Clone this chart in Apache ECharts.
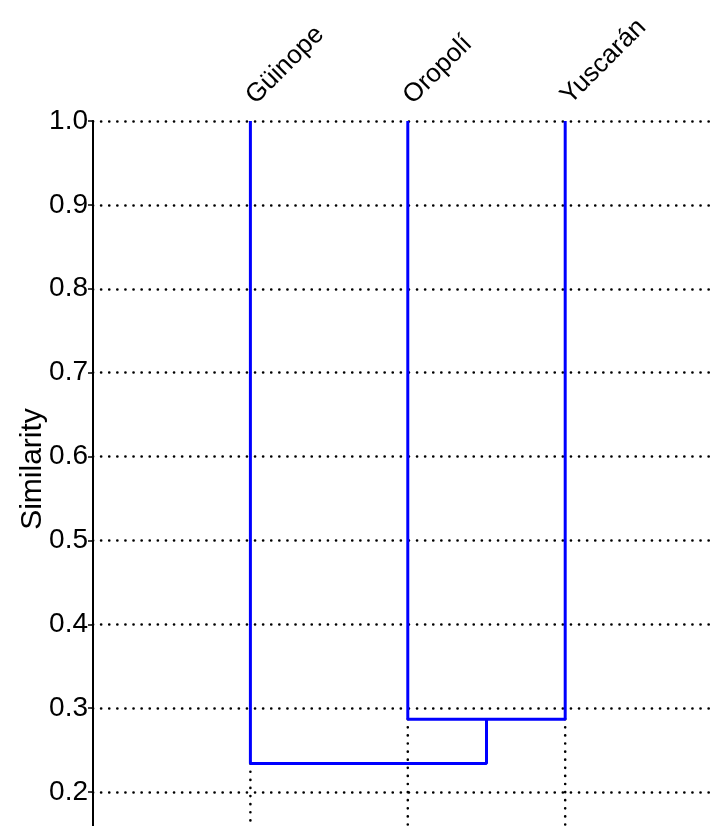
<!DOCTYPE html>
<html>
<head>
<meta charset="utf-8">
<script src="https://cdn.jsdelivr.net/npm/echarts@6/dist/echarts.min.js"></script>
<style>
  html, body { margin: 0; padding: 0; background: #fff; overflow: hidden; }
  #chart { width: 710px; height: 826px; }
</style>
</head>
<body>
<div id="chart"></div>
<script>
// leaves of the dendrogram, left to right
const leaves = ['Güinope', 'Oropolí', 'Yuscarán'];
// similarity at which the clusters merge
const mergeOropoliYuscaran = 0.287;
const mergeGuinopeRest = 0.234;
// y axis ticks
const yTicks = [0.2, 0.3, 0.4, 0.5, 0.6, 0.7, 0.8, 0.9, 1.0];

const chart = echarts.init(document.getElementById('chart'));

const yTop = 1.0;
const yBottom = 0.1;
const mid = (2 + 3) / 2;

// blue dendrogram branches
const branchA = [[2, yTop], [2, mergeOropoliYuscaran], [3, mergeOropoliYuscaran], [3, yTop]];
const branchB = [[1, yTop], [1, mergeGuinopeRest], [mid, mergeGuinopeRest], [mid, mergeOropoliYuscaran]];

// dotted drop lines below the joins
const dropLines = [
  [[1, mergeGuinopeRest], [1, yBottom]],
  [[2, mergeOropoliYuscaran], [2, yBottom]],
  [[3, mergeOropoliYuscaran], [3, yBottom]]
];

const font = 'Liberation Sans, Arial, sans-serif';
const dots = { color: '#000', width: 2.6, type: [0.1, 8], cap: 'round' };

const series = [];
dropLines.forEach(function (d) {
  series.push({
    type: 'line', data: d, symbol: 'none', silent: true, z: 1,
    lineStyle: dots
  });
});
[branchA, branchB].forEach(function (b) {
  series.push({
    type: 'line', data: b, symbol: 'none', silent: true, z: 3,
    lineStyle: { color: '#0000ff', width: 3 }
  });
});

chart.setOption({
  animation: false,
  // plot runs below the window so the axis is cut at the bottom edge
  grid: { left: 93, right: 0, top: 121, height: 755, outerBoundsMode: 'none', containLabel: false },
  xAxis: {
    type: 'value',
    position: 'top',
    min: 0,
    max: 3.92,
    interval: 1,
    axisLine: { show: false },
    axisTick: { show: false },
    splitLine: { show: false },
    axisLabel: {
      rotate: -45,
      margin: 21,
      fontSize: 26,
      fontFamily: font,
      color: '#000',
      showMaxLabel: false,
      formatter: function (v) {
        return leaves[v - 1] || '';
      }
    }
  },
  yAxis: {
    type: 'value',
    min: yBottom,
    max: yTop,
    interval: 0.1,
    axisLine: { show: true, lineStyle: { color: '#000', width: 2 } },
    axisTick: { show: true, length: 5, lineStyle: { color: '#000', width: 1.5 } },
    axisLabel: {
      fontSize: 28,
      fontFamily: font,
      color: '#000',
      margin: 5,
      formatter: function (v) {
        const t = yTicks.find(function (k) { return Math.abs(k - v) < 1e-6; });
        return t !== undefined ? t.toFixed(1) : '';
      }
    },
    splitLine: { show: true, lineStyle: dots }
  },
  graphic: [{
    type: 'text',
    x: 33,
    y: 469,
    rotation: Math.PI / 2,
    style: {
      text: 'Similarity',
      fontSize: 30,
      fontFamily: font,
      fill: '#000',
      align: 'center',
      verticalAlign: 'middle'
    }
  }],
  series: series
});
</script>
</body>
</html>
